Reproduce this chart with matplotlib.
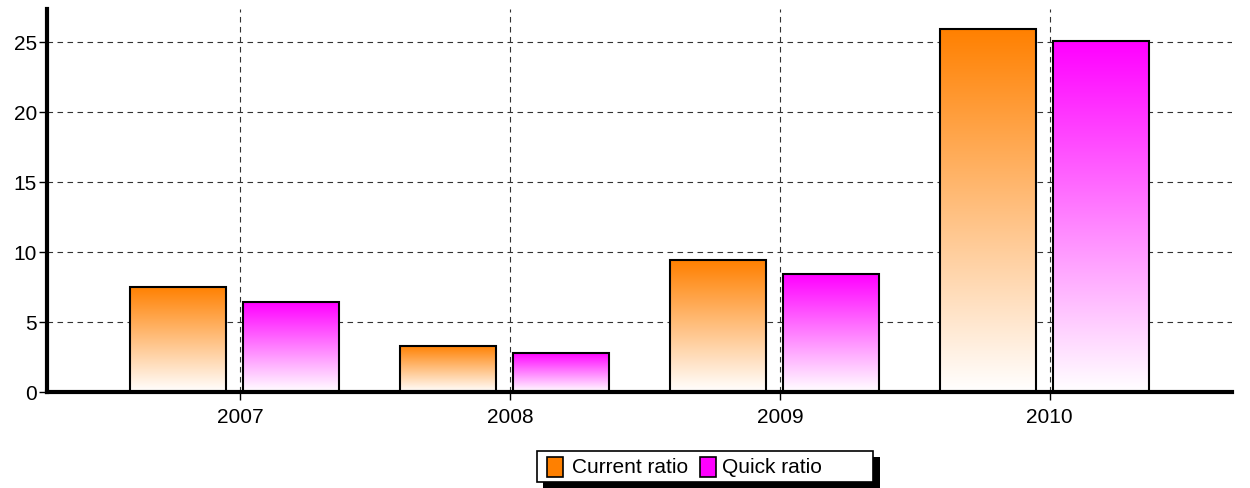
import numpy as np
import matplotlib
matplotlib.use("Agg")
import matplotlib.pyplot as plt
from matplotlib.patches import Rectangle
from matplotlib.colors import LinearSegmentedColormap

plt.rcParams['font.family'] = ['Liberation Sans', 'DejaVu Sans']

categories = ['2007', '2008', '2009', '2010']
current_ratio = [7.5, 3.3, 9.4, 25.95]
quick_ratio = [6.4, 2.8, 8.4, 25.1]
series_names = ['Current ratio', 'Quick ratio']
series_colors = ['#FF8000', '#FF00FF']

W, H = 1250, 489
fig = plt.figure(figsize=(W / 100, H / 100), dpi=100)
ax = fig.add_axes([47 / W, (H - 393) / H, (1232 - 47) / W, (393 - 10) / H])

x = np.arange(len(categories))
bar_w = 0.355
offsets = [-0.23, 0.19]

for vals, off, col in zip([current_ratio, quick_ratio], offsets, series_colors):
    cmap = LinearSegmentedColormap.from_list('g', ['#FFFFFF', col])
    grad = np.linspace(0, 1, 256).reshape(-1, 1)
    bars = ax.bar(x + off, vals, width=bar_w, facecolor='none', edgecolor='black',
                  linewidth=1.5, zorder=4)
    for b in bars:
        x0, y0 = b.get_x(), b.get_y()
        w, h = b.get_width(), b.get_height()
        ax.imshow(grad, extent=[x0, x0 + w, y0, y0 + h], origin='lower',
                  cmap=cmap, aspect='auto', zorder=3, interpolation='bilinear')

ax.set_xlim(-0.715, 3.675)
ax.set_ylim(0, 27.35)
ax.set_xticks(x)
ax.set_xticklabels(categories)
ax.set_yticks([0, 5, 10, 15, 20, 25])

ax.grid(True, color='#333333', linestyle=(0, (5, 4)), linewidth=0.8, zorder=1)
ax.set_axisbelow(True)

for s in ['top', 'right']:
    ax.spines[s].set_visible(False)
for s in ['left', 'bottom']:
    ax.spines[s].set_linewidth(3)
    ax.spines[s].set_zorder(5)
ax.tick_params(axis='both', direction='out', length=5.8, width=1, labelsize=15, colors='black')
ax.tick_params(axis='y', pad=1.5)
ax.tick_params(axis='x', pad=5)

# Manual legend (pixel coordinates measured from the top-left)
def fx(px):
    return px / W

def fy(py):
    return 1 - py / H

tf = fig.transFigure
fig.patches.append(Rectangle((fx(543), fy(489)), (880 - 543) / W, 31 / H, transform=tf,
                             facecolor='black', edgecolor='none', zorder=9))
fig.patches.append(Rectangle((fx(537), fy(483)), (873 - 537) / W, 31 / H, transform=tf,
                             facecolor='white', edgecolor='black', linewidth=1.2, zorder=10))
handle_x = [547, 700]
text_x = [571.5, 722.5]
for hx, tx, name, col in zip(handle_x, text_x, series_names, series_colors):
    fig.patches.append(Rectangle((fx(hx), fy(477.5)), 16 / W, 19.5 / H, transform=tf,
                                 facecolor=col, edgecolor='black', linewidth=1.2, zorder=11))
    fig.text(fx(tx), fy(468), name, fontsize=15, ha='left', va='center', zorder=12)

fig.savefig('out.png', dpi=100)
